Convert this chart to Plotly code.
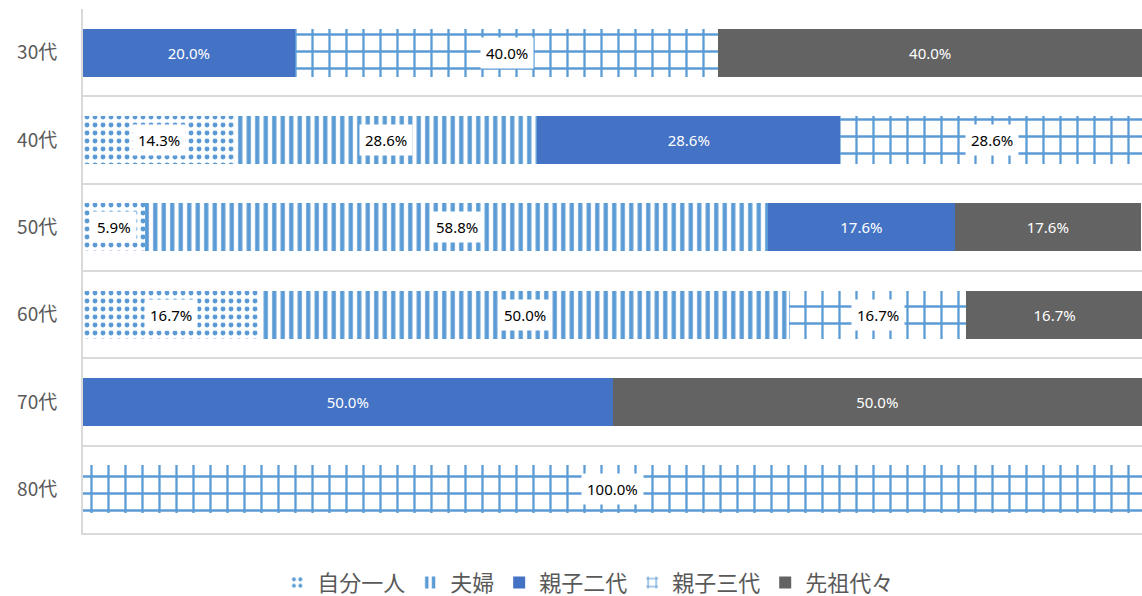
"""Horizontal 100% stacked bar chart: household type by age group"""
import plotly.graph_objects as go

ages = ["30代", "40代", "50代", "60代", "70代", "80代"]
series_names = ["自分一人", "夫婦", "親子二代", "親子三代", "先祖代々"]
alone = [0, 14.3, 5.9, 16.7, 0, 0]
couple = [0, 28.6, 58.8, 50.0, 0, 0]
two_gen = [20.0, 28.6, 17.6, 0, 50.0, 0]
three_gen = [40.0, 28.6, 0, 16.7, 0, 100.0]
ancestors = [40.0, 0, 17.6, 16.7, 50.0, 0]

series_values = [alone, couple, two_gen, three_gen, ancestors]

PATTERN_BLUE = "#5B9BD5"
styles = [
    {"color": "white", "pattern": {"shape": ".", "fgcolor": PATTERN_BLUE, "bgcolor": "white", "size": 8, "solidity": 0.3, "fillmode": "replace"}},
    {"color": "white", "pattern": {"shape": "|", "fgcolor": PATTERN_BLUE, "bgcolor": "white", "size": 8.5, "solidity": 0.5, "fillmode": "replace"}},
    {"color": "#4472C4"},
    {"color": "white", "pattern": {"shape": "+", "fgcolor": PATTERN_BLUE, "bgcolor": "white", "size": 17, "solidity": 0.25, "fillmode": "replace"}},
    {"color": "#636363"},
]
solid = [False, False, True, False, True]

fig = go.Figure()
for name, vals, style, is_solid in zip(series_names, series_values, styles, solid):
    fig.add_trace(go.Bar(
        y=ages, x=vals, name=name, orientation="h",
        marker=dict(line=dict(width=0), **style),
        text=[f"{v:.1f}%" if (v > 0 and is_solid) else "" for v in vals],
        textposition="inside", insidetextanchor="middle",
        textfont=dict(color="white", size=15, family="Noto Sans"),
        hoverinfo="skip",
    ))

# white-boxed labels for the patterned segments, placed at segment centres
for i, age in enumerate(ages):
    left = 0
    for vals, is_solid in zip(series_values, solid):
        v = vals[i]
        if v > 0 and not is_solid:
            fig.add_annotation(x=left + v / 2, y=age, text=f"{v:.1f}%", showarrow=False,
                               font=dict(color="black", size=15, family="Noto Sans"),
                               bgcolor="white", borderpad=5)
        left += v

fig.update_layout(
    barmode="stack", bargap=0.45,
    width=1142, height=596,
    margin=dict(l=83, r=0, t=9, b=63, autoexpand=False),
    plot_bgcolor="white", paper_bgcolor="white",
    font=dict(family="Noto Sans CJK JP", color="#595959"),
    xaxis=dict(range=[0, 100], showticklabels=False, showgrid=False, zeroline=False,
               showline=True, linecolor="#D9D9D9", linewidth=2, mirror=False),
    yaxis=dict(autorange="reversed", tickson="boundaries", showgrid=True, gridcolor="#D9D9D9",
               gridwidth=2, ticks="", showline=True, linecolor="#D9D9D9", linewidth=2,
               tickfont=dict(size=19, color="#595959"), ticklabelstandoff=20),
    legend=dict(orientation="h", x=0.477, xanchor="center", y=-0.095, yanchor="middle",
                font=dict(size=22, color="#595959"), traceorder="normal",
                itemwidth=30),
    showlegend=True,
)

# drop the default body margin so the figure sits at the page origin
fig.write_html("out.html", config={"displayModeBar": False},
               post_script="document.body.style.margin='0';document.body.style.overflow='hidden';")
